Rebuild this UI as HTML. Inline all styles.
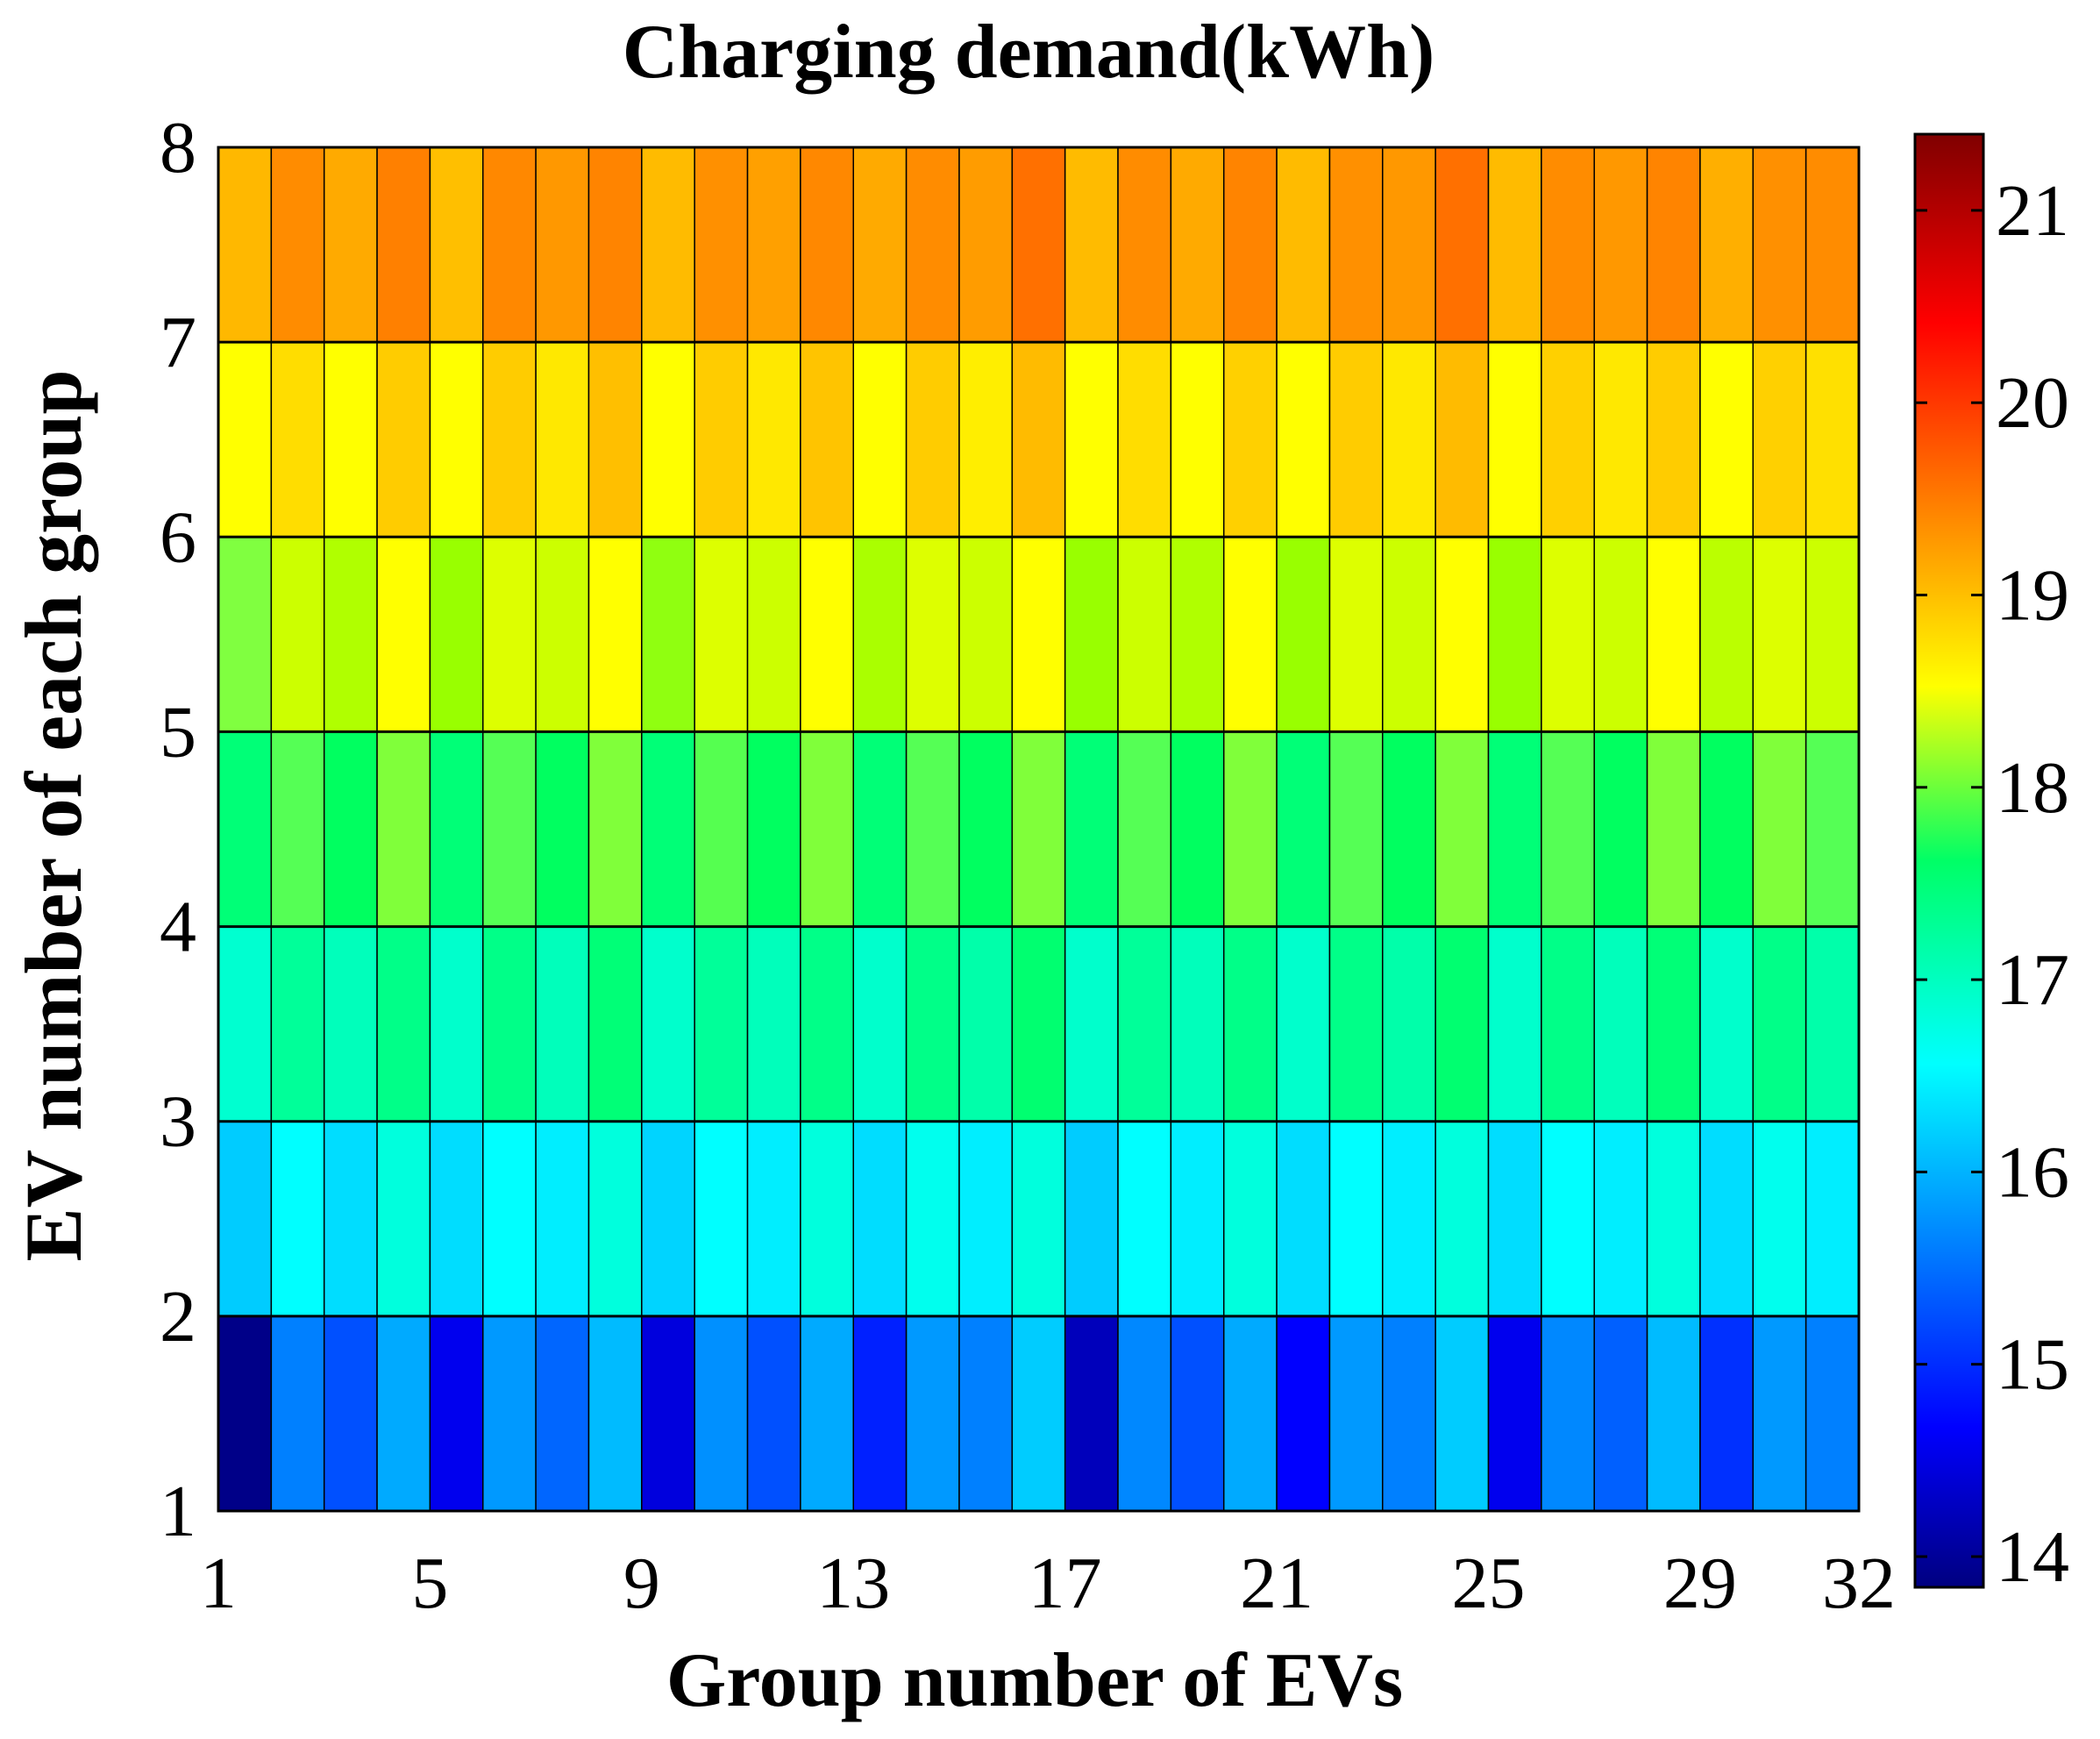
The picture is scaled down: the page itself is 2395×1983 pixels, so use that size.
<!DOCTYPE html>
<html><head><meta charset="utf-8"><style>html,body{margin:0;padding:0;background:#fff}svg{display:block}text{font-family:"Liberation Serif",serif}</style></head><body>
<svg id="s" width="2395" height="1983" xmlns="http://www.w3.org/2000/svg">
<defs><linearGradient id="jet" x1="0" y1="1" x2="0" y2="0">
<stop offset="0" stop-color="#000080"/><stop offset="0.11" stop-color="#0000ff"/><stop offset="0.36" stop-color="#00ffff"/><stop offset="0.5" stop-color="#00ff66"/><stop offset="0.62" stop-color="#ffff00"/><stop offset="0.87" stop-color="#ff0000"/><stop offset="1" stop-color="#800000"/></linearGradient></defs>
<g id="cells"></g>
<rect x="249" y="168" width="1871" height="1555" fill="none" stroke="#000" stroke-width="3"/>
<rect x="2184" y="153" width="78" height="1657" fill="url(#jet)" stroke="#000" stroke-width="3"/>
<g id="cb" stroke="#000" stroke-width="3"></g>
<text x="1173" y="88" font-size="88" font-weight="bold" text-anchor="middle">Charging demand(kWh)</text>
<text x="1180" y="1945" font-size="88" font-weight="bold" text-anchor="middle">Group number of EVs</text>
<text transform="translate(92,930) rotate(-90)" font-size="92" font-weight="bold" text-anchor="middle">EV number of each group</text>
<g id="lab" font-size="84"></g>
</svg>
<script>
var rows=[
"ffb800 ff8c00 ffaa00 ff8000 ffbf00 ff8800 ff9800 ff8400 ffbb00 ff9000 ffa000 ff8800 ffaa00 ff8c00 ff9c00 ff7000 ffbb00 ff8c00 ffaa00 ff8400 ffbb00 ff9000 ff9800 ff7000 ffbb00 ff8c00 ff9800 ff8400 ffaf00 ff9000 ff8c00",
"ffff00 ffdd00 ffff00 ffcc00 ffff00 ffcc00 ffe800 ffbf00 ffff00 ffcc00 ffe800 ffc400 ffff00 ffcc00 ffee00 ffbb00 ffff00 ffdd00 ffff00 ffd000 ffff00 ffcc00 ffe800 ffbb00 ffff00 ffd000 ffe800 ffcc00 ffff00 ffd000 ffe000",
"80ff40 ccff00 b0ff00 ffff00 99ff00 ddff00 ccff00 ffff00 90ff10 ddff00 ccff00 ffff00 aaff00 ddff00 ccff00 ffff00 99ff00 ccff00 b0ff00 ffff00 99ff00 ddff00 ccff00 ffff00 99ff00 ddff00 ccff00 ffff00 bbff00 ddff00 ccff00",
"00ff77 55ff55 00ff60 80ff3a 00ff77 55ff55 00ff60 80ff3a 00ff77 55ff50 00ff60 80ff3a 00ff77 55ff55 00ff60 80ff3a 00ff77 55ff55 00ff60 80ff3a 00ff77 55ff55 00ff60 80ff3a 00ff77 55ff55 00ff60 80ff3a 00ff60 80ff3a 55ff55",
"00ffd0 00ff99 00ffbb 00ff88 00ffcc 00ff88 00ffbb 00ff77 00ffcc 00ff99 00ffbb 00ff88 00ffcc 00ff88 00ffaa 00ff70 00ffcc 00ff99 00ffbb 00ff88 00ffcc 00ff88 00ffaa 00ff70 00ffcc 00ff88 00ffbb 00ff77 00ffcc 00ff88 00ffaa",
"00ccff 00ffff 00ddff 00ffdd 00ddff 00ffff 00eeff 00ffdd 00d4ff 00ffff 00eeff 00ffdd 00ddff 00ffee 00eeff 00ffdd 00ccff 00ffff 00eeff 00ffdd 00ddff 00ffff 00eeff 00ffdd 00ddff 00ffff 00eeff 00ffdd 00ddff 00ffee 00eeff",
"000088 0080ff 0050ff 00aaff 0000ee 0099ff 0066ff 00bbff 0000dd 0090ff 0050ff 00aaff 0020ff 0099ff 0080ff 00ccff 0000bb 0088ff 0050ff 00aaff 0000ff 0099ff 0080ff 00ccff 0000ee 0088ff 0060ff 00bbff 0030ff 0099ff 0080ff"];
var NS="http://www.w3.org/2000/svg";
function el(t,a,p,txt){var e=document.createElementNS(NS,t);for(var k in a)e.setAttribute(k,a[k]);if(txt!=null)e.textContent=txt;document.getElementById(p).appendChild(e);return e;}
var L=249,T=168,W=1871,H=1555,cw=W/31,rh=H/7;
rows.forEach(function(r,i){r.split(" ").forEach(function(c,j){el("rect",{x:L+j*cw,y:T+i*rh,width:cw,height:rh,fill:"#"+c,stroke:"#000","stroke-width":1.5},"cells");});
 el("line",{x1:L,x2:L+W,y1:T+i*rh,y2:T+i*rh,stroke:"#000","stroke-width":3},"cells");});
[1,5,9,13,17,21,25,29,32].forEach(function(v){el("text",{x:L+(v-1)*cw,y:1833,"text-anchor":"middle"},"lab",v);});
for(var v=1;v<=8;v++){el("text",{x:224,y:T+H-(v-1)*rh+28,"text-anchor":"end"},"lab",v);}
for(var v=14;v<=21;v++){var y=1775-(v-14)*219.3;el("text",{x:2276,y:y+28},"lab",v);
 el("line",{x1:2184,x2:2198,y1:y,y2:y},"cb");el("line",{x1:2248,x2:2262,y1:y,y2:y},"cb");}
</script>
</body></html>
